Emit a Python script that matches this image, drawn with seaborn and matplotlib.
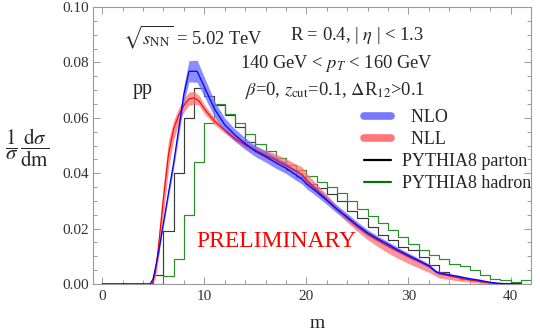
import numpy as np
import pandas as pd
import seaborn as sns
import matplotlib
matplotlib.use("Agg")
import matplotlib.pyplot as plt
from matplotlib.lines import Line2D
from matplotlib.ticker import MultipleLocator

# ---------------- data ----------------
bin_edges = list(range(0, 43))  # m bins of width 1, 0..42

pythia_parton = [0, 0, 0, 0, 0, 0.0032, 0.019, 0.040, 0.060, 0.0707, 0.068, 0.0646,
                 0.061, 0.0568, 0.0514, 0.0475, 0.046, 0.044, 0.0412, 0.0387, 0.036,
                 0.0345, 0.0325, 0.030, 0.0265, 0.0237, 0.0207, 0.0177, 0.0159, 0.0135,
                 0.0123, 0.0099, 0.0069, 0.0043, 0.003, 0.0019, 0.0013, 0.0008, 0.0005,
                 0.0003, 0.0002, 0.0001]

pythia_hadron = [0, 0, 0, 0, 0, 0, 0.003, 0.009, 0.025, 0.044, 0.058, 0.065, 0.0615,
                 0.058, 0.054, 0.0505, 0.048, 0.0455, 0.043, 0.041, 0.039, 0.037, 0.035,
                 0.033, 0.030, 0.027, 0.0245, 0.022, 0.0195, 0.017, 0.0145, 0.0122,
                 0.0103, 0.0092, 0.0074, 0.0065, 0.005, 0.0032, 0.0018, 0.0013, 0.0009,
                 0.0014]

nlo_m = [0, 4.7, 5, 5.5, 6, 6.5, 7, 7.5, 8, 8.5, 9.3, 10, 11, 12, 13, 14, 15, 16, 17, 18,
         19, 19.6, 20, 21, 22, 23, 24, 25, 26, 27, 28, 29, 30, 31, 32, 32.7, 33, 34, 35,
         36, 37, 38, 39, 40, 41]
nlo_mid = [0, 0, 0.002, 0.011, 0.022, 0.033, 0.0437, 0.056, 0.0685, 0.0768, 0.0768,
           0.0712, 0.0632, 0.0575, 0.0538, 0.0507, 0.048, 0.046, 0.0438, 0.0418, 0.0393,
           0.0378, 0.0362, 0.0333, 0.0302, 0.027, 0.0242, 0.0212, 0.0185, 0.0163, 0.0143,
           0.0122, 0.0103, 0.0085, 0.0066, 0.0044, 0.004, 0.0033, 0.0026, 0.0019, 0.0013,
           0.0006, 0.0002, 0, 0]
nlo_err = [0, 0, 0.0005, 0.0008, 0.001, 0.0014, 0.0018, 0.0024, 0.003, 0.0038, 0.004,
           0.0035, 0.0028, 0.0024, 0.0022, 0.0021, 0.002, 0.002, 0.002, 0.0019, 0.0019,
           0.0018, 0.0017, 0.0016, 0.0015, 0.0014, 0.0013, 0.0012, 0.0011, 0.001, 0.001,
           0.0009, 0.0009, 0.0008, 0.0007, 0.0006, 0.0006, 0.0005, 0.0005, 0.0004, 0.0004,
           0.0003, 0.0002, 0.0001, 0]

nll_m = [0, 4.9, 5.2, 5.5, 6, 6.5, 7, 7.5, 8, 8.5, 9, 9.5, 10, 11, 12, 13, 14, 15, 16, 17,
         18, 19, 19.6, 20, 21, 22, 23, 24, 25, 26, 27, 28, 29, 30, 31, 32, 33, 34, 35, 36,
         37, 38, 39, 40, 41]
nll_mid = [0, 0, 0.004, 0.013, 0.031, 0.047, 0.056, 0.061, 0.0645, 0.0668, 0.0672, 0.066,
           0.0632, 0.0588, 0.0555, 0.0525, 0.0502, 0.0483, 0.0465, 0.0448, 0.0428, 0.0408,
           0.0395, 0.0375, 0.034, 0.0305, 0.027, 0.0238, 0.0207, 0.018, 0.0158, 0.0137,
           0.0118, 0.0099, 0.0082, 0.0064, 0.0038, 0.003, 0.0022, 0.0015, 0.0009, 0.0004,
           0.0001, 0, 0]
nll_lo = [0, 0, 0.002, 0.009, 0.025, 0.042, 0.052, 0.058, 0.062, 0.0645, 0.065, 0.0645,
          0.0615, 0.0575, 0.0545, 0.0515, 0.0492, 0.0473, 0.0455, 0.0438, 0.0418, 0.0398,
          0.0385, 0.0365, 0.033, 0.0295, 0.0258, 0.0222, 0.019, 0.016, 0.0135, 0.0112,
          0.0092, 0.0074, 0.0058, 0.0042, 0.0022, 0.0016, 0.0011, 0.0007, 0.0003, 0.0001,
          0, 0, 0]
nll_hi = [0, 0, 0.006, 0.017, 0.036, 0.052, 0.059, 0.0635, 0.067, 0.0693, 0.0695, 0.068,
          0.0648, 0.060, 0.0565, 0.0535, 0.0515, 0.0498, 0.0483, 0.047, 0.0452, 0.0433,
          0.0422, 0.040, 0.0362, 0.0322, 0.0282, 0.0245, 0.0212, 0.0184, 0.016, 0.0139,
          0.012, 0.0101, 0.0084, 0.0066, 0.004, 0.0032, 0.0024, 0.0016, 0.001, 0.0005,
          0.0001, 0, 0]

legend_labels = ["  NLO", "  NLL", "PYTHIA8 parton", "PYTHIA8 hadron"]

# ---------------- style ----------------
sns.set_style("ticks")
plt.rcParams["font.family"] = ["Liberation Serif", "DejaVu Serif"]
plt.rcParams["mathtext.fontset"] = "stix"

W, H = 540, 335
fig = plt.figure(figsize=(W / 100, H / 100), dpi=100)
ax = fig.add_axes([93 / W, 1 - 284 / H, (531 - 93) / W, (284 - 7) / H])

edges = np.array(bin_edges, dtype=float)
centers = (edges[:-1] + edges[1:]) / 2
nbins = len(edges) - 1

hist_df = pd.DataFrame({"m": centers, "parton": pythia_parton, "hadron": pythia_hadron})

sns.histplot(data=hist_df, x="m", weights="parton", bins=nbins,
             binrange=(edges[0], edges[-1]), element="step",
             fill=False, color="#3a3a3a", linewidth=0.85, ax=ax)
sns.histplot(data=hist_df, x="m", weights="hadron", bins=nbins,
             binrange=(edges[0], edges[-1]), element="step",
             fill=False, color="#2a8f2a", linewidth=0.85, ax=ax)

nll_m_a = np.array(nll_m)
ax.fill_between(nll_m_a, nll_lo, nll_hi, color="#ff7070", alpha=0.75, lw=0, zorder=3)
nlo_m_a = np.array(nlo_m)
nlo_mid_a = np.array(nlo_mid)
nlo_err_a = np.array(nlo_err)
ax.fill_between(nlo_m_a, nlo_mid_a - nlo_err_a, nlo_mid_a + nlo_err_a,
                color="#7070ff", alpha=0.8, lw=0, zorder=4)

sns.lineplot(x=nll_m, y=nll_mid, color="#ff0000", lw=0.8, ax=ax, zorder=5)
sns.lineplot(x=nlo_m, y=nlo_mid, color="#0000ff", lw=0.9, ax=ax, zorder=6)

ax.set_xlim(-0.9, 42)
ax.set_ylim(0, 0.1)
ax.set_xlabel("")
ax.set_ylabel("")

ax.xaxis.set_major_locator(MultipleLocator(10))
ax.xaxis.set_minor_locator(MultipleLocator(2))
ax.yaxis.set_major_locator(MultipleLocator(0.02))
ax.yaxis.set_minor_locator(MultipleLocator(0.005))
ax.yaxis.set_major_formatter(matplotlib.ticker.FormatStrFormatter("%.2f"))
frame_col = "#9a9a9a"
for s in ax.spines.values():
    s.set_visible(True)
    s.set_color(frame_col)
    s.set_linewidth(0.8)
ax.tick_params(which="both", direction="in", top=True, right=True, color=frame_col,
               width=0.7, labelsize=11, labelcolor="#333333")
ax.tick_params(which="major", length=5)
ax.tick_params(which="minor", length=2.8)
ax.tick_params(axis="x", pad=4)
ax.tick_params(axis="y", pad=3)
for lab in ax.get_xticklabels() + ax.get_yticklabels():
    lab.set_family(["Liberation Serif"])

# ---------------- legend ----------------
handles = [Line2D([], [], color="#7878ff", lw=5.5),
           Line2D([], [], color="#ff7878", lw=5.5),
           Line2D([], [], color="black", lw=1.6),
           Line2D([], [], color="#0d6e0d", lw=1.6)]
leg = ax.legend(handles, legend_labels, loc="upper left",
                bbox_to_anchor=(364 / W, 1 - 109 / H), bbox_transform=fig.transFigure,
                frameon=False, fontsize=13, handlelength=1.5, handletextpad=0.6,
                labelspacing=0.28, borderpad=0, borderaxespad=0)

# ---------------- texts ----------------
def ftxt(x, y, s, **kw):
    fig.text(x / W, 1 - y / H, s, **kw)

ftxt(193, 44, r"$\sqrt{s_{\rm NN}}$ = 5.02 TeV", ha="center", va="baseline", fontsize=13.3)
ftxt(357, 40.5, r"R = 0.4, | $\eta$ | < 1.3", ha="center", va="baseline", fontsize=13.3)
ftxt(337, 68, r"140 GeV < $p_T$ < 160 GeV", ha="center", va="baseline", fontsize=13.3)
ftxt(335, 95, r"$\beta$=0, $z_{\rm cut}$=0.1, $\Delta$R$_{12}$>0.1", ha="center",
     va="baseline", fontsize=13.3)
ftxt(143, 94, "pp", ha="center", va="baseline", fontsize=14.5)
ftxt(276, 247, "PRELIMINARY", ha="center", va="baseline", fontsize=17, color="#ff0000")
ftxt(317, 328, "m", ha="center", va="baseline", fontsize=14)
ftxt(27, 148, r"$\dfrac{1}{\sigma}\,\dfrac{\mathrm{d}\sigma}{\mathrm{dm}}$", ha="center",
     va="center", fontsize=15)

fig.savefig("out.png", dpi=100)
